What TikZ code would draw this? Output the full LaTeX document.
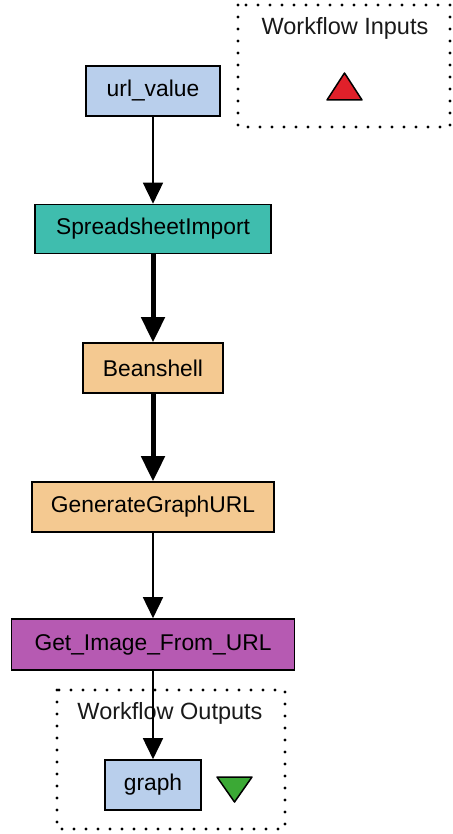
\documentclass[tikz,border=0pt]{standalone}
\usepackage{fontspec}
\setmainfont{Liberation Sans}
\usetikzlibrary{arrows.meta}
\definecolor{inputblue}{HTML}{B9CFEC}
\definecolor{teal}{HTML}{3FBDAE}
\definecolor{tan}{HTML}{F4C991}
\definecolor{magenta}{HTML}{B65AB2}
\definecolor{redtri}{HTML}{E0202A}
\definecolor{greentri}{HTML}{3BA935}
\begin{document}
\begin{tikzpicture}[x=1pt,y=-1pt,
  proc/.style={draw, line width=1.6pt, inner sep=0pt, minimum height=50pt,
    font=\fontsize{22.8}{26}\selectfont},
  port/.style={proc, fill=inputblue},
  grouplabel/.style={font=\fontsize{23.5}{27}\selectfont, text=black!90},
  groupbox/.style={line width=3.4pt, line cap=round, dash pattern=on 0pt off 12pt},
  thinlink/.style={line width=1.6pt, -{Triangle[length=21pt,width=20pt]}},
  thicklink/.style={line width=5pt, -{Triangle[length=25pt,width=23pt]}},
  ]
\useasboundingbox (0,0) rectangle (452,834);

% workflow port groups
\draw[groupbox] (238,5) rectangle (450,127);
\node[grouplabel] (inlabel) at (345,28) {Workflow Inputs};
\draw[groupbox] (57,690) rectangle (285,829);
\node[grouplabel] (outlabel) at (170,713) {Workflow Outputs};

% processors
\node[port, minimum width=134pt] (url) at (153,91) {url\_value};
\node[proc, fill=teal, minimum width=236pt, minimum height=49pt] (sheet) at (153,229) {SpreadsheetImport};
\node[proc, fill=tan, minimum width=140pt] (bean) at (153,368) {Beanshell};
\node[proc, fill=tan, minimum width=242pt] (gen) at (153,507) {GenerateGraphURL};
\node[proc, fill=magenta, minimum width=283pt, minimum height=51pt] (getimg) at (153,644.5) {Get\_Image\_From\_URL};
\node[port, minimum width=96pt] (graph) at (153,785) {graph};

% port markers
\draw[fill=redtri, line width=1.5pt, line join=round] (344.5,73) -- (362,100) -- (327,100) -- cycle;
\draw[fill=greentri, line width=1.5pt, line join=round] (217,777) -- (252,777) -- (234.5,802) -- cycle;

% links
\draw[thinlink] (url) -- (sheet);
\draw[thicklink] (sheet) -- (bean);
\draw[thicklink] (bean) -- (gen);
\draw[thinlink] (gen) -- (getimg);
\draw[thinlink] (getimg) -- (graph);
\end{tikzpicture}
\end{document}
